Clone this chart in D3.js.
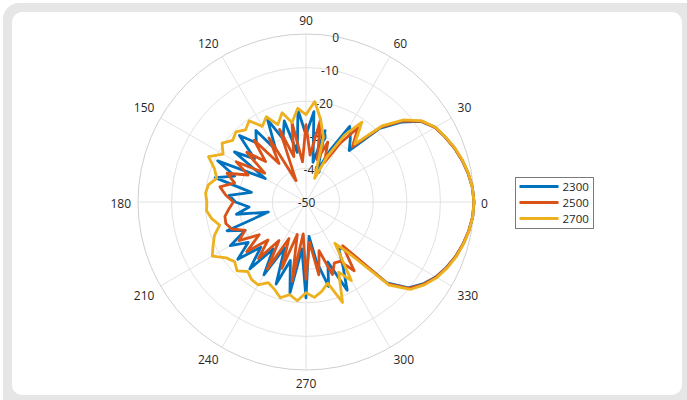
<!DOCTYPE html>
<html lang="en">
<head>
<meta charset="utf-8">
<script src="https://d3js.org/d3.v7.min.js"></script>
<style>
  body { margin: 0; background: #fff; }
  svg text { font-family: "Open Sans", sans-serif; fill: #262626; }
</style>
</head>
<body>
<script>
    // angle (deg) of every sample
    const angles = [0, 5, 10, 15, 20, 25, 30, 35, 40, 45, 50, 55, 60, 65, 70, 75, 80, 85, 90, 95,
        100, 105, 110, 115, 120, 125, 130, 135, 140, 145, 150, 155, 160, 165, 170, 175, 180, 185, 190, 195,
        200, 205, 210, 215, 220, 225, 230, 235, 240, 245, 250, 255, 260, 265, 270, 275, 280, 285, 290, 295,
        300, 305, 310, 315, 320, 325, 330, 335, 340, 345, 350, 355];

    // gain in dB, one value per angle
    const s2300 = [0, -0.3, -1.0, -1.9, -3.0, -4.3, -5.6, -8.2, -13.0, -19.0,
        -30.0, -27.0, -24.0, -33.0, -40.0, -28.0, -38.0, -23.0, -30.0, -22.5,
        -35.0, -25.0, -30.0, -23.0, -32.0, -24.0, -27.0, -22.0, -30.0, -24.0,
        -36.0, -21.0, -27.4, -22.0, -33.5, -27.0, -29.0, -33.0, -29.0, -38.4,
        -25.0, -30.0, -24.0, -29.0, -23.5, -31.0, -24.0, -33.0, -25.0, -35.0,
        -24.0, -32.0, -22.5, -36.0, -21.5, -39.7, -32.0, -24.0, -31.0, -21.0,
        -28.0, -33.0, -32.0, -16.0, -10.2, -7.5, -5.4, -3.9, -2.6, -1.6, -0.8, -0.2];
    const s2500 = [0, -0.3, -1.0, -1.9, -3.0, -4.3, -5.6, -8.1, -12.5, -18.5,
        -28.5, -23.0, -30.0, -37.0, -31.0, -37.0, -25.0, -36.0, -27.0, -38.0,
        -26.0, -36.0, -27.0, -43.0, -28.0, -36.0, -26.0, -33.0, -27.0, -35.0,
        -26.0, -31.0, -25.0, -28.0, -24.0, -26.0, -28.4, -27.0, -25.5, -25.3,
        -26.5, -30.0, -27.0, -33.0, -27.0, -34.0, -28.0, -36.0, -27.0, -38.0,
        -29.0, -40.0, -26.0, -40.5, -27.0, -38.0, -28.0, -35.0, -27.0, -30.0,
        -29.6, -25.0, -33.0, -15.5, -10.0, -7.3, -5.3, -3.8, -2.6, -1.6, -0.8, -0.2];
    const s2700 = [0, -0.3, -0.9, -1.8, -2.9, -4.2, -5.5, -7.9, -12.0, -18.0,
        -27.5, -21.0, -27.0, -35.0, -42.5, -30.0, -25.0, -20.0, -24.0, -22.0,
        -26.0, -22.5, -25.5, -22.0, -24.0, -20.5, -22.0, -20.5, -21.5, -19.5,
        -21.5, -18.0, -21.0, -22.5, -20.5, -20.0, -20.5, -20.3, -21.5, -23.4,
        -21.0, -19.5, -17.8, -21.0, -22.3, -21.0, -23.0, -21.8, -21.5, -23.5,
        -22.4, -20.5, -22.0, -20.5, -23.0, -21.5, -23.0, -25.0, -18.2, -27.0,
        -23.0, -35.0, -30.0, -15.0, -9.5, -7.0, -5.0, -3.6, -2.4, -1.5, -0.7, -0.2];

    const seriesNames = ["2300", "2500", "2700"];
    const thetaTicks = [0, 30, 60, 90, 120, 150, 180, 210, 240, 270, 300, 330];
    const rTicks = [-50, -40, -30, -20, -10, 0];

    const colors = ["#0072BD", "#D95319", "#EDB120"];
    const width = 687, height = 400;
    const cx = 306, cy = 202, R = 168;

    const svg = d3.select("body").append("svg")
        .attr("width", width)
        .attr("height", height);

    // grey card frame round the figure
    svg.append("rect").attr("x", 3).attr("y", 3).attr("width", 700).attr("height", 410)
        .attr("rx", 16).attr("fill", "#e6e6e6");
    svg.append("rect").attr("x", 12).attr("y", 12).attr("width", 670).attr("height", 383)
        .attr("rx", 10).attr("fill", "#fff");

    const r = d3.scaleLinear().domain([-50, 0]).range([0, R]);
    const rad = d => d * Math.PI / 180;

    const g = svg.append("g").attr("transform", `translate(${cx},${cy})`);

    // rings
    g.selectAll(".ring")
        .data(rTicks.filter(d => d > -50))
        .enter().append("circle")
        .attr("r", d => r(d))
        .attr("fill", "none")
        .attr("stroke", d => d === 0 ? "#cfcfcf" : "#e2e2e2")
        .attr("stroke-width", 1);

    // spokes
    g.selectAll(".spoke")
        .data(thetaTicks)
        .enter().append("line")
        .attr("x1", 0).attr("y1", 0)
        .attr("x2", d => R * Math.cos(rad(d)))
        .attr("y2", d => -R * Math.sin(rad(d)))
        .attr("stroke", "#e2e2e2")
        .attr("stroke-width", 1);

    // angle labels: anchored by the box corner nearest the circle
    const eps = 1e-6;
    g.selectAll(".tlab")
        .data(thetaTicks)
        .enter().append("text")
        .attr("font-size", 12)
        .attr("dy", "0.35em")
        .attr("text-anchor", d => {
            const c = Math.cos(rad(d));
            return c > eps ? "start" : (c < -eps ? "end" : "middle");
        })
        .attr("x", d => 175 * Math.cos(rad(d)))
        .attr("y", d => {
            const s = Math.sin(rad(d));
            const off = s > eps ? -6.5 : (s < -eps ? 6.5 : 1.5);
            return -175 * s + off;
        })
        .text(d => d);

    // radial tick labels along 80 deg (under the lines)
    g.selectAll(".rlab")
        .data(rTicks)
        .enter().append("text")
        .attr("font-size", 12)
        .attr("text-anchor", "middle")
        .attr("dy", "0.35em")
        .attr("x", d => r(d) * Math.cos(rad(80)) + 0.5)
        .attr("y", d => -r(d) * Math.sin(rad(80)) + 1)
        .text(d => d);

    // series
    const lines = [s2300, s2500, s2700];
    const radial = d3.lineRadial()
        .angle(d => Math.PI / 2 - rad(d[0]))
        .radius(d => r(d[1]))
        .curve(d3.curveLinearClosed);

    lines.forEach((vals, i) => {
        g.append("path")
            .datum(angles.map((a, k) => [a, vals[k]]))
            .attr("fill", "none")
            .attr("stroke", colors[i])
            .attr("stroke-width", 2.8)
            .attr("stroke-linejoin", "round")
            .attr("d", radial);
    });

    // legend
    const leg = svg.append("g").attr("transform", "translate(515.5,177.5)");
    leg.append("rect").attr("width", 78).attr("height", 51)
        .attr("fill", "#fff").attr("stroke", "#7a7a7a").attr("stroke-width", 1);
    seriesNames.forEach((name, i) => {
        leg.append("line")
            .attr("x1", 4).attr("x2", 43)
            .attr("y1", 9 + i * 16).attr("y2", 9 + i * 16)
            .attr("stroke", colors[i]).attr("stroke-width", 2.8);
        leg.append("text")
            .attr("x", 47).attr("y", 9 + i * 16)
            .attr("dy", "0.35em")
            .attr("font-size", 11.5)
            .text(name);
    });
</script>
</body>
</html>
